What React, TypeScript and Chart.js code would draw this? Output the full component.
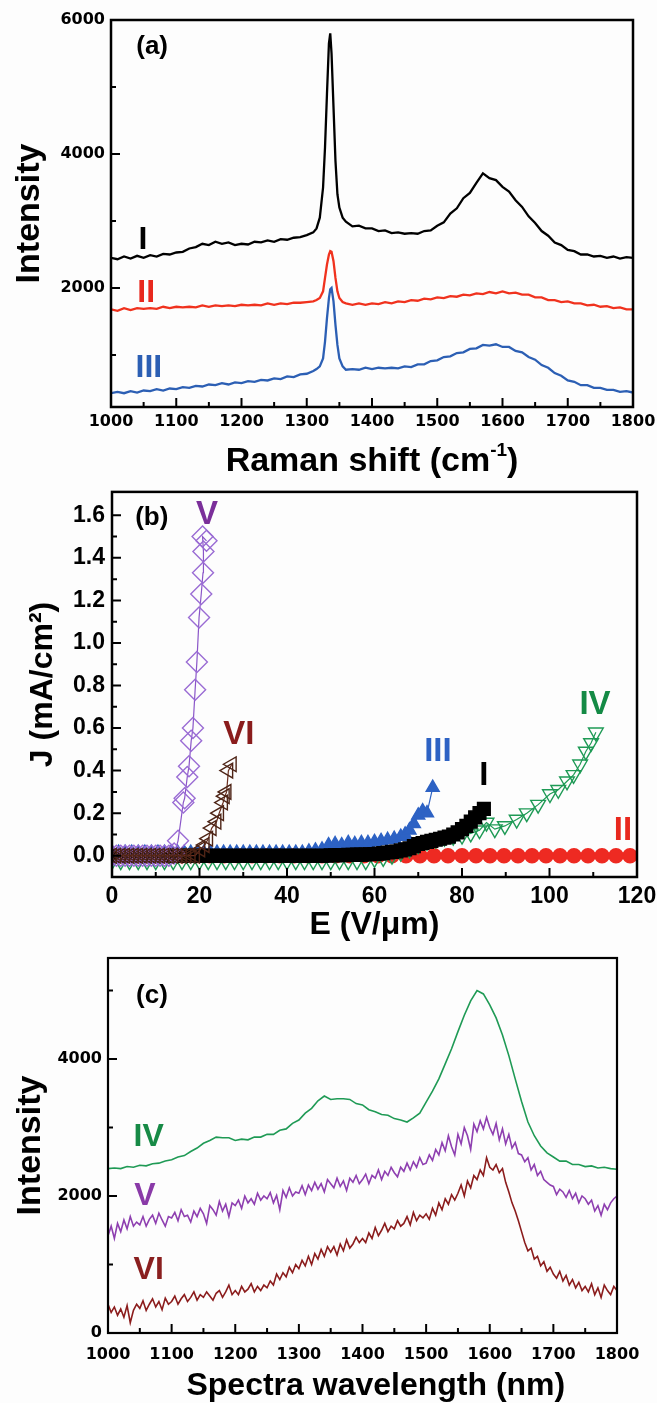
import React, { useEffect, useRef } from "react";
import { Chart, registerables } from "chart.js";

Chart.register(...registerables);

// ---------------- Panel (a): Raman spectra ----------------
const RAMAN_X = [
  1000, 1010, 1020, 1030, 1040, 1050, 1060, 1070, 1080, 1090,
  1100, 1110, 1120, 1130, 1140, 1150, 1160, 1170, 1180, 1190,
  1200, 1210, 1220, 1230, 1240, 1250, 1260, 1270, 1280, 1290,
  1300,
  1310, 1315, 1320, 1325, 1328, 1331, 1334, 1336, 1338, 1341, 1344, 1347, 1350, 1355, 1360, 1370, 1380, 1390,
  1400, 1410, 1420, 1430, 1440, 1450, 1460, 1470, 1480, 1490,
  1500, 1510, 1520, 1530, 1540, 1550, 1560, 1570, 1580, 1590,
  1600, 1610, 1620, 1630, 1640, 1650, 1660, 1670, 1680, 1690,
  1700, 1710, 1720, 1730, 1740, 1750, 1760, 1770, 1780, 1790,
  1800,
];
const RAMAN_I = [
  2450, 2430, 2470, 2440, 2480, 2450, 2490, 2470, 2510, 2500,
  2530, 2540, 2590, 2610, 2660, 2640, 2690, 2660, 2680, 2640,
  2660, 2650, 2690, 2680, 2710, 2690, 2730, 2720, 2750, 2760,
  2790,
  2830, 2890, 3050, 3500, 4100, 4900, 5650, 5800, 5500, 4700, 3900, 3400, 3200, 3050, 2990, 2920, 2930, 2890,
  2890, 2850, 2860, 2820, 2830, 2810, 2820, 2810, 2850, 2860,
  2930, 2980, 3110, 3190, 3340, 3420, 3570, 3710, 3640, 3610,
  3510, 3440, 3310, 3210, 3070, 2970, 2850, 2780, 2680, 2640,
  2570, 2550, 2500, 2500, 2470, 2480, 2450, 2470, 2440, 2460,
  2450,
];
const RAMAN_II = [
  1680, 1660, 1700, 1670, 1700, 1690, 1700, 1690, 1720, 1700,
  1720, 1710, 1720, 1710, 1740, 1720, 1740, 1730, 1740, 1730,
  1750, 1740, 1750, 1740, 1770, 1750, 1770, 1760, 1780, 1780,
  1790,
  1800, 1820, 1850, 1950, 2150, 2350, 2500, 2550, 2540, 2400, 2150, 1950, 1850, 1790, 1770, 1750, 1770, 1750,
  1770, 1760, 1790, 1770, 1800, 1790, 1820, 1810, 1840, 1830,
  1860, 1850, 1880, 1870, 1900, 1890, 1920, 1910, 1940, 1920,
  1950, 1920, 1930, 1900, 1900, 1860, 1860, 1820, 1820, 1790,
  1800, 1770, 1770, 1740, 1750, 1720, 1730, 1700, 1710, 1680,
  1680,
];
const RAMAN_III = [
  430, 450, 430, 460, 440, 470, 460, 490, 470, 500,
  490, 520, 510, 540, 530, 560, 550, 580, 560, 590,
  580, 610, 600, 630, 620, 650, 640, 680, 670, 710,
  720,
  760, 790, 830, 950, 1200, 1550, 1850, 1980, 2000, 1800, 1450, 1150, 950, 830, 780, 790, 780, 810,
  790, 810, 800, 810, 800, 830, 820, 860, 860, 910,
  920, 970, 980, 1030, 1040, 1090, 1100, 1150, 1140, 1160,
  1120, 1120, 1060, 1040, 970, 930, 850, 810, 730, 690,
  620, 600, 550, 550, 510, 510, 480, 480, 450, 460,
  440,
];
const A_X_TICKS = [1000, 1100, 1200, 1300, 1400, 1500, 1600, 1700, 1800];
const A_X_MINOR = [1050, 1150, 1250, 1350, 1450, 1550, 1650, 1750];
const A_Y_TICKS = [2000, 4000, 6000];
const A_Y_MINOR = [1000, 3000, 5000];

// ---------------- Panel (b): J-E curves ----------------
const B_E_I = [
  0, 1, 2, 3, 4, 5, 6, 7, 8, 9, 10, 11, 12, 13, 14, 15, 16, 17, 18, 19,
  20, 21, 22, 23, 24, 25, 26, 27, 28, 29, 30, 31, 32, 33, 34, 35, 36, 37, 38, 39,
  40, 41, 42, 43, 44, 45, 46, 47, 48, 49, 50, 51, 52, 53, 54, 55, 56, 57, 58, 59,
  60, 61, 62, 63, 64, 65, 66, 67, 68, 69, 70, 71, 72, 73, 74, 75, 76, 77, 78, 79,
  80, 81, 82, 83, 84, 85,
];
const B_J_I = [
  0, 0, 0, 0, 0, 0, 0, 0, 0, 0, 0, 0, 0, 0, 0, 0, 0, 0, 0, 0,
  0, 0, 0, 0, 0, 0, 0, 0, 0, 0, 0, 0, 0, 0, 0, 0, 0, 0, 0, 0,
  0, 0, 0, 0, 0, 0, 0, 0, 0, 0, 0.002, 0.002, 0.003, 0.003, 0.004, 0.004, 0.005, 0.005, 0.006, 0.007,
  0.008, 0.01, 0.012, 0.015, 0.018, 0.02, 0.025, 0.03, 0.035, 0.045, 0.055, 0.06, 0.065, 0.07, 0.075, 0.08, 0.085, 0.09, 0.1, 0.11,
  0.125, 0.14, 0.16, 0.18, 0.2, 0.22,
];
const B_E_II = [
  0, 3.2, 6.4, 9.6, 12.8, 16, 19.2, 22.4, 25.6, 28.8, 32, 35.2, 38.4, 41.6, 44.8, 48, 51.2, 54.4, 57.6,
  60.8, 64, 67.2, 70.4, 73.6, 76.8, 80, 83.2, 86.4, 89.6, 92.8, 96, 99.2, 102.4, 105.6, 108.8, 112, 115.2, 118.4,
];
const B_J_II = [
  0, 0, 0, 0, 0, 0, 0, 0, 0, 0, 0, 0, 0, 0, 0, 0, 0, 0, 0,
  0, 0, 0, 0, 0, 0, 0, 0, 0, 0, 0, 0, 0, 0, 0, 0, 0, 0, 0,
];
const B_E_III = [
  0, 1.5, 3, 4.5, 6, 7.5, 9, 10.5, 12, 13.5, 15, 16.5, 18, 19.5, 21, 22.5, 24, 25.5, 27, 28.5,
  30, 31.5, 33, 34.5, 36, 37.5, 39, 40.5, 42, 43.5, 45, 46.5, 48,
  49.5, 51, 52.5, 54, 55.5, 57, 58.5, 60, 61.5, 63, 64.5, 66,
  67, 68, 69, 70, 71, 72, 73.3,
];
const B_J_III = [
  0.015, 0.015, 0.015, 0.015, 0.015, 0.015, 0.015, 0.015, 0.015, 0.015, 0.015, 0.015, 0.015, 0.015, 0.015, 0.015, 0.015, 0.015, 0.015, 0.015,
  0.015, 0.015, 0.015, 0.015, 0.015, 0.015, 0.015, 0.015, 0.015, 0.015, 0.02, 0.025, 0.03,
  0.05, 0.055, 0.05, 0.06, 0.055, 0.06, 0.06, 0.065, 0.07, 0.075, 0.08, 0.09,
  0.1, 0.12, 0.15, 0.19, 0.21, 0.2, 0.32,
];
const B_E_IV = [
  0, 2, 4, 6, 8, 10, 12, 14, 16, 18, 20, 22, 24, 26, 28, 30, 32, 34, 36, 38,
  40, 42, 44, 46, 48, 50, 52, 54, 56, 58,
  60, 62, 64, 66, 68, 70, 72, 74, 76, 78, 80, 82, 84, 85.6, 87.5, 89.8, 92.5, 94.8, 97.4, 100.1,
  102, 104, 105.5, 107, 108.3, 109.5, 110.6,
];
const B_J_IV = [
  -0.025, -0.025, -0.025, -0.025, -0.025, -0.025, -0.025, -0.025, -0.025, -0.025,
  -0.025, -0.025, -0.025, -0.025, -0.025, -0.025, -0.025, -0.025, -0.025, -0.025,
  -0.025, -0.025, -0.025, -0.025, -0.025, -0.025, -0.025, -0.025, -0.025, -0.025,
  -0.015, -0.01, 0.0, 0.015, 0.03, 0.05, 0.065, 0.075, 0.085, 0.09, 0.095, 0.105, 0.12, 0.156, 0.125, 0.14, 0.17, 0.2, 0.24, 0.29,
  0.31, 0.35, 0.38, 0.43, 0.49, 0.53, 0.58,
];
const B_E_V = [
  0, 1, 2, 3, 4, 5, 6, 7, 8, 9, 10, 11, 12, 13,
  14.2, 15.1, 16.3, 16.6, 17.2, 17.6, 18.1, 18.5, 19.0, 19.4, 19.9, 20.4, 20.8, 20.9, 20.7, 21.6,
];
const B_J_V = [
  0, 0, 0, 0, 0, 0, 0, 0, 0, 0, 0, 0, 0, 0,
  0.01, 0.07, 0.25, 0.27, 0.37, 0.42, 0.54, 0.6, 0.78, 0.91, 1.12, 1.23, 1.33, 1.43, 1.5, 1.48,
];
const B_E_VI = [
  0, 1, 2, 3, 4, 5, 6, 7, 8, 9, 10, 11, 12, 13, 14, 15, 16, 17, 18, 19,
  20.2, 21.2, 22, 22.8, 23.9, 24.5, 25.4, 25.8, 26.2, 26.6, 27.4,
];
const B_J_VI = [
  0, 0, 0, 0, 0, 0, 0, 0, 0, 0, 0, 0, 0, 0, 0, 0, 0, 0, 0, 0,
  0.03, 0.05, 0.08, 0.13, 0.16, 0.2, 0.25, 0.28, 0.3, 0.4, 0.43,
];
const B_X_TICKS = [0, 20, 40, 60, 80, 100, 120];
const B_X_MINOR = [10, 30, 50, 70, 90, 110];
const B_Y_TICKS = [0, 0.2, 0.4, 0.6, 0.8, 1.0, 1.2, 1.4, 1.6];
const B_Y_MINOR = [0.1, 0.3, 0.5, 0.7, 0.9, 1.1, 1.3, 1.5];

// ---------------- Panel (c): PL spectra ----------------
const C_X10 = [
  1000, 1010, 1020, 1030, 1040, 1050, 1060, 1070, 1080, 1090,
  1100, 1110, 1120, 1130, 1140, 1150, 1160, 1170, 1180, 1190,
  1200, 1210, 1220, 1230, 1240, 1250, 1260, 1270, 1280, 1290,
  1300, 1310, 1320, 1330, 1340, 1350, 1360, 1370, 1380, 1390,
  1400, 1410, 1420, 1430, 1440, 1450, 1460, 1470, 1480, 1490,
  1500, 1510, 1520, 1530, 1540, 1550, 1560, 1570, 1580, 1590,
  1600, 1610, 1620, 1630, 1640, 1650, 1660, 1670, 1680, 1690,
  1700, 1710, 1720, 1730, 1740, 1750, 1760, 1770, 1780, 1790,
  1800,
];
const C_IV = [
  2400, 2410, 2400, 2430, 2420, 2450, 2440, 2470, 2480, 2510,
  2530, 2570, 2590, 2650, 2700, 2770, 2810, 2860, 2850, 2850,
  2810, 2830, 2820, 2860, 2860, 2900, 2900, 2960, 2980, 3060,
  3110, 3210, 3280, 3390, 3460, 3410, 3420, 3420, 3410, 3350,
  3330, 3260, 3230, 3190, 3180, 3130, 3110, 3080, 3140, 3210,
  3370, 3530, 3710, 3930, 4150, 4400, 4640, 4850, 5000, 4950,
  4790, 4600, 4350, 4050, 3710, 3380, 3080, 2880, 2730, 2630,
  2570, 2510, 2510, 2460, 2460, 2430, 2440, 2410, 2420, 2400,
  2390,
];
const C_X5 = [
  1000, 1005, 1010, 1015, 1020, 1025, 1030, 1035, 1040, 1045,
  1050, 1055, 1060, 1065, 1070, 1075, 1080, 1085, 1090, 1095,
  1100, 1105, 1110, 1115, 1120, 1125, 1130, 1135, 1140, 1145,
  1150, 1155, 1160, 1165, 1170, 1175, 1180, 1185, 1190, 1195,
  1200, 1205, 1210, 1215, 1220, 1225, 1230, 1235, 1240, 1245,
  1250, 1255, 1260, 1265, 1270, 1275, 1280, 1285, 1290, 1295,
  1300, 1305, 1310, 1315, 1320, 1325, 1330, 1335, 1340, 1345,
  1350, 1355, 1360, 1365, 1370, 1375, 1380, 1385, 1390, 1395,
  1400, 1405, 1410, 1415, 1420, 1425, 1430, 1435, 1440, 1445,
  1450, 1455, 1460, 1465, 1470, 1475, 1480, 1485, 1490, 1495,
  1500, 1505, 1510, 1515, 1520, 1525, 1530, 1535, 1540, 1545,
  1550, 1555, 1560, 1565, 1570, 1575, 1580, 1585, 1590, 1595,
  1600, 1605, 1610, 1615, 1620, 1625, 1630, 1635, 1640, 1645,
  1650, 1655, 1660, 1665, 1670, 1675, 1680, 1685, 1690, 1695,
  1700, 1705, 1710, 1715, 1720, 1725, 1730, 1735, 1740, 1745,
  1750, 1755, 1760, 1765, 1770, 1775, 1780, 1785, 1790, 1795,
  1800,
];
const C_V = [
  1420, 1560, 1380, 1600, 1480, 1650, 1520, 1700, 1560, 1620,
  1580, 1700, 1560, 1660, 1720, 1600, 1750, 1650, 1560, 1700,
  1680, 1760, 1640, 1800, 1700, 1720, 1620, 1780, 1700, 1820,
  1740, 1600, 1860, 1800, 1720, 1920, 1780, 1880, 1700, 1900,
  1860, 1940, 1820, 2000, 1900, 1960, 1880, 2040, 1940, 2000,
  1960, 2050, 1900, 2010, 1800, 2080, 1980, 2120, 2000, 2060,
  2040, 2150, 2020, 2160, 2080, 2200, 2100, 2180, 2060, 2240,
  2180, 2120, 2260, 2140, 2220, 2080, 2260, 2200, 2300, 2180,
  2240, 2320, 2180, 2300, 2260, 2380, 2240, 2360, 2300, 2420,
  2340, 2280, 2420, 2360, 2480, 2380, 2500, 2420, 2560, 2460,
  2480, 2600, 2520, 2680, 2600, 2780, 2660, 2880, 2720, 2600,
  2900, 2760, 3000, 2880, 2680, 3050, 2940, 3100, 2980, 3150,
  3000, 2900, 3060, 2820, 2980, 2760, 2900, 2700, 2780, 2620,
  2600, 2500, 2560, 2380, 2460, 2300, 2360, 2240, 2200, 2160,
  2140, 2020, 2100, 2060, 1980, 2080, 1960, 2040, 1900, 2000,
  1960, 1880, 1940, 1780, 1860, 1720, 1880, 1800, 1900, 1960,
  2000,
];
const C_VI = [
  420, 300, 380, 260, 350, 230, 400, 150, 330, 420,
  360, 470, 330, 420, 500, 380, 460, 340, 510, 420,
  460, 540, 420, 500, 560, 460, 520, 600, 480, 560,
  520, 600, 540, 480, 580, 620, 520, 600, 700, 560,
  620, 560, 680, 600, 640, 720, 600, 680, 620, 700,
  660, 760, 700, 860, 780, 880, 820, 960, 880, 1000,
  940, 1060, 980, 1120, 1000, 1160, 1080, 1220, 1120, 1260,
  1180, 1260, 1140, 1300, 1200, 1360, 1240, 1300, 1400, 1320,
  1380, 1320, 1460, 1380, 1540, 1420, 1500, 1600, 1480, 1560,
  1520, 1640, 1560, 1600, 1700, 1580, 1760, 1640, 1720, 1680,
  1740, 1660, 1820, 1720, 1900, 1800, 1960, 1880, 2020, 1940,
  2040, 2160, 2000, 2220, 2120, 2300, 2240, 2380, 2300, 2560,
  2420, 2380, 2460, 2340, 2400, 2200, 2060, 1900, 1780, 1640,
  1480, 1320, 1200, 1240, 1080, 1120, 980, 1040, 900, 960,
  860, 800, 900, 760, 840, 700, 780, 660, 740, 620,
  680, 600, 720, 560, 660, 520, 700, 620, 560, 680,
  620,
];
const C_X_TICKS = [1000, 1100, 1200, 1300, 1400, 1500, 1600, 1700, 1800];
const C_X_MINOR = [1050, 1150, 1250, 1350, 1450, 1550, 1650, 1750];
const C_Y_TICKS = [0, 2000, 4000];
const C_Y_MINOR = [1000, 3000, 5000];

// ---------------- helpers ----------------
const SANS = "'Liberation Sans', Arial, 'DejaVu Sans', sans-serif";
const DEJA = "'DejaVu Sans', 'Liberation Sans', sans-serif";

const pts = (xs: number[], ys: number[]) => xs.map((x, i) => ({ x, y: ys[i] }));

const zeroPad = (s: any) => {
  s.paddingLeft = 0;
  s.paddingRight = 0;
  s.paddingTop = 0;
  s.paddingBottom = 0;
};

function xScale(min: number, max: number, ticks: number[], o: any) {
  return {
    type: "linear",
    position: "bottom",
    min,
    max,
    afterBuildTicks: (s: any) => {
      s.ticks = ticks.map((v) => ({ value: v }));
    },
    afterFit: (s: any) => {
      s.height = o.h;
      zeroPad(s);
    },
    grid: { display: false, drawTicks: false },
    border: { display: false },
    ticks: {
      autoSkip: false,
      maxRotation: 0,
      minRotation: 0,
      padding: o.pad,
      color: "#000",
      font: o.font,
      callback: o.fmt,
    },
    title: {
      display: !!o.title,
      text: o.title || "",
      color: "#000",
      font: { family: SANS, size: o.titleSize, weight: "bold", lineHeight: 1 },
      padding: { top: 0, bottom: o.titlePad },
    },
  };
}

function yScale(min: number, max: number, ticks: number[], o: any) {
  return {
    type: "linear",
    position: "left",
    min,
    max,
    afterBuildTicks: (s: any) => {
      s.ticks = ticks.map((v) => ({ value: v }));
    },
    afterFit: (s: any) => {
      s.width = o.w;
      zeroPad(s);
    },
    grid: { display: false, drawTicks: false },
    border: { display: false },
    ticks: {
      autoSkip: false,
      padding: o.pad,
      color: "#000",
      font: o.font,
      callback: o.fmt,
    },
    title: {
      display: true,
      text: o.title,
      color: "#000",
      font: { family: SANS, size: o.titleSize, weight: "bold", lineHeight: 1 },
      padding: { top: o.titlePad, bottom: 0 },
    },
  };
}

const framePlugin = {
  id: "frame",
  afterDatasetsDraw(chart: any, _a: any, opts: any) {
    const { ctx, chartArea: ca } = chart;
    const xs = chart.scales.x;
    const ys = chart.scales.y;
    ctx.save();
    ctx.strokeStyle = "#000";
    ctx.lineWidth = opts.tickWidth;
    ctx.beginPath();
    for (const t of xs.ticks) {
      const p = xs.getPixelForValue(t.value);
      ctx.moveTo(p, ca.bottom);
      ctx.lineTo(p, ca.bottom - opts.major);
    }
    for (const v of opts.xMinor) {
      const p = xs.getPixelForValue(v);
      ctx.moveTo(p, ca.bottom);
      ctx.lineTo(p, ca.bottom - opts.minor);
    }
    for (const t of ys.ticks) {
      const p = ys.getPixelForValue(t.value);
      ctx.moveTo(ca.left, p);
      ctx.lineTo(ca.left + opts.major, p);
    }
    for (const v of opts.yMinor) {
      const p = ys.getPixelForValue(v);
      ctx.moveTo(ca.left, p);
      ctx.lineTo(ca.left + opts.minor, p);
    }
    ctx.stroke();
    ctx.lineWidth = opts.frameWidth;
    ctx.strokeRect(ca.left, ca.top, ca.right - ca.left, ca.bottom - ca.top);
    ctx.textAlign = "center";
    ctx.textBaseline = "middle";
    for (const l of opts.labels) {
      ctx.fillStyle = l.color;
      ctx.font = `bold ${l.size}px ${SANS}`;
      ctx.fillText(l.text, xs.getPixelForValue(l.x), ys.getPixelForValue(l.y));
    }
    // axis title with superscript (drawn as text pieces)
    if (opts.supTitle) {
      const st = opts.supTitle;
      const parts = st.parts;
      let total = 0;
      const widths: number[] = [];
      for (const p of parts) {
        ctx.font = `bold ${p.size}px ${SANS}`;
        const w = ctx.measureText(p.text).width;
        widths.push(w);
        total += w;
      }
      let x = (ca.left + ca.right) / 2 - total / 2;
      ctx.fillStyle = "#000";
      ctx.textAlign = "left";
      ctx.textBaseline = "alphabetic";
      parts.forEach((p: any, i: number) => {
        ctx.font = `bold ${p.size}px ${SANS}`;
        ctx.fillText(p.text, x, st.baseline - (p.rise || 0));
        x += widths[i];
      });
    }
    ctx.restore();
  },
};

const baseOptions = (padding: any, frame: any, scales: any) => ({
  responsive: false,
  maintainAspectRatio: false,
  animation: false,
  devicePixelRatio: 1,
  events: [],
  layout: { padding },
  plugins: { legend: { display: false }, tooltip: { enabled: false }, frame },
  scales,
});

const spectrum = (data: any, color: string, width: number, order: number) => ({
  data,
  borderColor: color,
  borderWidth: width,
  pointRadius: 0,
  tension: 0,
  fill: false,
  order,
});

const markers = (data: any, color: string, o: any) => ({
  data,
  borderColor: o.line || color,
  borderWidth: o.lw || 1.2,
  pointStyle: o.style,
  pointRadius: o.r,
  pointRotation: o.rot || 0,
  pointBorderColor: color,
  pointBackgroundColor: o.filled ? color : "rgba(255,255,255,0)",
  pointBorderWidth: o.pbw || 1.4,
  tension: 0,
  fill: false,
  order: o.order,
});

function buildA() {
  return {
    type: "line",
    data: {
      datasets: [
        spectrum(pts(RAMAN_X, RAMAN_I), "#000000", 2.3, 0),
        spectrum(pts(RAMAN_X, RAMAN_II), "#f0321e", 2.3, 1),
        spectrum(pts(RAMAN_X, RAMAN_III), "#2c5fb4", 2.3, 2),
      ],
    },
    options: baseOptions(
      { left: 0, right: 24, top: 20, bottom: 0 },
      {
        xMinor: A_X_MINOR,
        yMinor: A_Y_MINOR,
        major: 9,
        minor: 5,
        tickWidth: 2,
        frameWidth: 2.5,
        labels: [
          { text: "(a)", x: 1063, y: 5597, color: "#000", size: 26 },
          { text: "I", x: 1049, y: 2716, color: "#000", size: 32 },
          { text: "II", x: 1054, y: 1925, color: "#e8281e", size: 32 },
          { text: "III", x: 1058, y: 806, color: "#2c5fb4", size: 32 },
        ],
        supTitle: {
          baseline: 471,
          parts: [
            { text: "Raman shift (cm", size: 34 },
            { text: "-1", size: 19, rise: 15 },
            { text: ")", size: 34 },
          ],
        },
      },
      {
        x: xScale(1000, 1800, A_X_TICKS, {
          h: 73,
          pad: 7,
          font: { family: DEJA, size: 16, weight: "bold", lineHeight: 1 },
          fmt: (v: number) => String(v),
          title: "",
          titleSize: 34,
          titlePad: 4,
        }),
        y: yScale(224, 6000, A_Y_TICKS, {
          w: 111,
          pad: 6,
          font: { family: DEJA, size: 16, weight: "bold", lineHeight: 1 },
          fmt: (v: number) => String(v),
          title: "Intensity",
          titleSize: 34,
          titlePad: 13,
        }),
      }
    ),
    plugins: [framePlugin],
  };
}

function buildB() {
  return {
    type: "line",
    data: {
      datasets: [
        markers(pts(B_E_I, B_J_I), "#000000", { style: "rect", r: 9, filled: true, order: 2 }),
        markers(pts(B_E_II, B_J_II), "#ee2a22", { style: "circle", r: 7, filled: true, order: 5 }),
        markers(pts(B_E_III, B_J_III), "#2d62c4", { style: "triangle", r: 7.5, filled: true, order: 3 }),
        markers(pts(B_E_IV, B_J_IV), "#1e9a55", { style: "triangle", r: 8.5, rot: 180, order: 4 }),
        markers(pts(B_E_V, B_J_V), "#9a6cd4", { style: "rectRot", r: 10.5, order: 1, line: "#8a55c8" }),
        markers(pts(B_E_VI, B_J_VI), "#4e2416", { style: "triangle", r: 8.5, rot: 270, order: 0, line: "#6b3020" }),
      ],
    },
    options: baseOptions(
      { left: 0, right: 20, top: 8, bottom: 0 },
      {
        xMinor: B_X_MINOR,
        yMinor: B_Y_MINOR,
        major: 9,
        minor: 5,
        tickWidth: 2,
        frameWidth: 2.5,
        labels: [
          { text: "(b)", x: 9.1, y: 1.586, color: "#000", size: 26 },
          { text: "V", x: 21.7, y: 1.6, color: "#7b2f9a", size: 33 },
          { text: "VI", x: 29.0, y: 0.57, color: "#8a1c1c", size: 33 },
          { text: "III", x: 74.5, y: 0.49, color: "#2d62c4", size: 33 },
          { text: "I", x: 85.0, y: 0.373, color: "#000", size: 33 },
          { text: "IV", x: 110.4, y: 0.71, color: "#148a45", size: 33 },
          { text: "II", x: 116.8, y: 0.117, color: "#e8281e", size: 33 },
        ],
      },
      {
        x: xScale(0, 120, B_X_TICKS, {
          h: 68,
          pad: 8,
          font: { family: SANS, size: 23, weight: "bold", lineHeight: 1 },
          fmt: (v: number) => String(v),
          title: "E (V/\u03BCm)",
          titleSize: 32,
          titlePad: 4,
        }),
        y: yScale(-0.1, 1.71, B_Y_TICKS, {
          w: 112,
          pad: 7,
          font: { family: SANS, size: 23, weight: "bold", lineHeight: 1 },
          fmt: (v: number) => v.toFixed(1),
          title: "J (mA/cm\u00B2)",
          titleSize: 32,
          titlePad: 27,
        }),
      }
    ),
    plugins: [framePlugin],
  };
}

function buildC() {
  return {
    type: "line",
    data: {
      datasets: [
        spectrum(pts(C_X10, C_IV), "#1f9a55", 1.6, 0),
        spectrum(pts(C_X5, C_V), "#8e3fb0", 1.6, 1),
        spectrum(pts(C_X5, C_VI), "#8b1c1c", 1.6, 2),
      ],
    },
    options: baseOptions(
      { left: 0, right: 40, top: 13, bottom: 0 },
      {
        xMinor: C_X_MINOR,
        yMinor: C_Y_MINOR,
        major: 9,
        minor: 5,
        tickWidth: 2,
        frameWidth: 2.2,
        labels: [
          { text: "(c)", x: 1069, y: 4927, color: "#000", size: 26 },
          { text: "IV", x: 1064, y: 2860, color: "#178a46", size: 32 },
          { text: "V", x: 1058, y: 1994, color: "#8a3aa8", size: 32 },
          { text: "VI", x: 1064, y: 924, color: "#8a1f1f", size: 32 },
        ],
      },
      {
        x: xScale(1000, 1800, C_X_TICKS, {
          h: 70,
          pad: 14,
          font: { family: DEJA, size: 16, weight: "bold", lineHeight: 1 },
          fmt: (v: number) => String(v),
          title: "\u00A0\u00A0\u00A0Spectra wavelength (nm)",
          titleSize: 32,
          titlePad: 1,
        }),
        y: yScale(0, 5475, C_Y_TICKS, {
          w: 108,
          pad: 6,
          font: { family: DEJA, size: 16, weight: "bold", lineHeight: 1 },
          fmt: (v: number) => String(v),
          title: "Intensity",
          titleSize: 34,
          titlePad: 14,
        }),
      }
    ),
    plugins: [framePlugin],
  };
}

function ChartCanvas({ top, height, build }: { top: number; height: number; build: () => any }) {
  const ref = useRef<HTMLCanvasElement>(null);
  useEffect(() => {
    const chart = new Chart(ref.current as HTMLCanvasElement, build());
    return () => chart.destroy();
  }, []);
  return (
    <canvas
      ref={ref}
      width={657}
      height={height}
      style={{ position: "absolute", left: 0, top, width: 657, height }}
    />
  );
}

export default function App() {
  return (
    <div
      style={{
        position: "absolute",
        left: 0,
        top: 0,
        width: 657,
        height: 1403,
        background: "#fdfdfd",
        overflow: "hidden",
      }}
    >
      <ChartCanvas top={0} height={480} build={buildA} />
      <ChartCanvas top={480} height={465} build={buildB} />
      <ChartCanvas top={945} height={458} build={buildC} />
    </div>
  );
}
